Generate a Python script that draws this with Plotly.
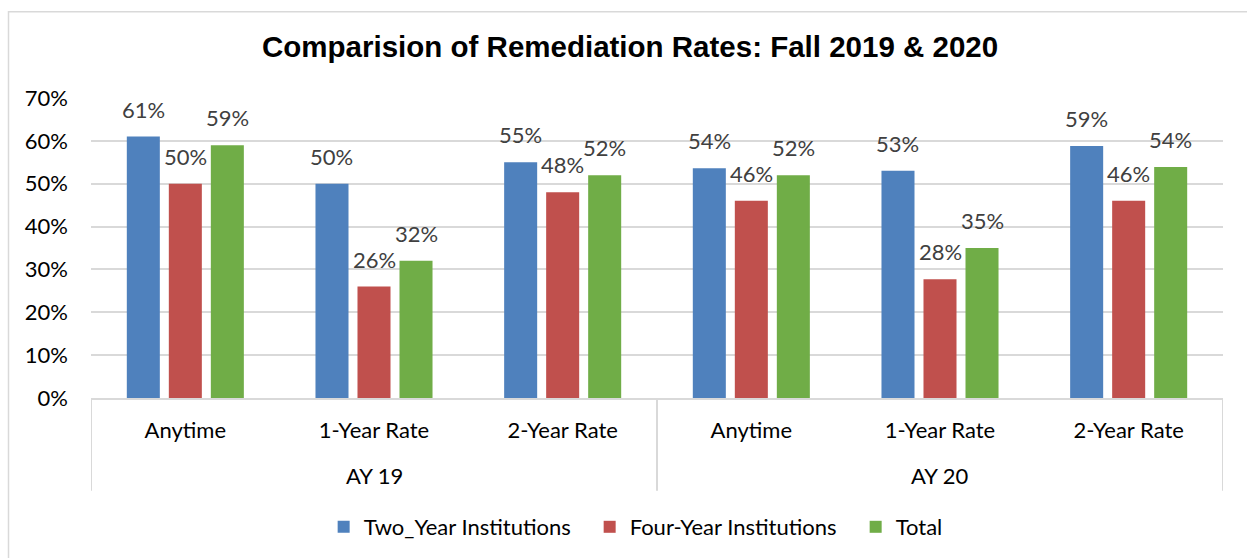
import plotly.graph_objects as go

groups = ["AY 19", "AY 20"]
years = ["AY 19"] * 3 + ["AY 20"] * 3
measures = ["Anytime", "1-Year Rate", "2-Year Rate"] * 2
two_year = [0.61, 0.50, 0.55, 0.536, 0.53, 0.588]
four_year = [0.50, 0.26, 0.48, 0.46, 0.277, 0.46]
total = [0.59, 0.32, 0.52, 0.52, 0.35, 0.539]
series_names = ["Two_Year Institutions", "Four-Year Institutions", "Total"]
colors = ["#4F81BD", "#C0504D", "#70AD47"]
title = "Comparision of Remediation Rates: Fall 2019 & 2020"
ytickvals = [0, 0.1, 0.2, 0.3, 0.4, 0.5, 0.6, 0.7]

W, H = 1247, 558
ML, MR, MT, MB = 91, 24, 98, 159
FONT = "Lato"
FS = 22
BARGAP = 0.332
BARGROUPGAP = 0.214
GRID = "#D9D9D9"

pw = W - ML - MR
ph = H - MT - MB
xpos = list(range(len(measures)))
all_series = [two_year, four_year, total]

fig = go.Figure()
for name, vals, col in zip(series_names, all_series, colors):
    fig.add_trace(go.Bar(name=name, x=xpos, y=vals, marker_color=col, marker_line_width=0))

# data labels above bars (positioned from the bar group geometry)
slot = (1 - BARGAP) / len(all_series)
for k, vals in enumerate(all_series):
    off = (k - (len(all_series) - 1) / 2) * slot
    for i, v in zip(xpos, vals):
        fig.add_annotation(x=i + off, y=v, xref="x", yref="y", text=f"{round(v * 100)}%",
                           showarrow=False, yanchor="bottom", xanchor="center", yshift=12,
                           font=dict(family=FONT, size=FS, color="#404040"))

# group labels and dividers of the two-level category axis
n_per = len(measures) // len(groups)
for g, name in enumerate(groups):
    center = g * n_per + (n_per - 1) / 2
    fig.add_annotation(x=center, y=-78 / ph, xref="x", yref="paper", text=name, showarrow=False,
                       yanchor="middle", xanchor="center", font=dict(family=FONT, size=FS, color="black"))
for b in range(len(groups) + 1):
    xd = b * n_per - 0.5
    fig.add_shape(type="line", xref="x", yref="paper", x0=xd, x1=xd, y0=0, y1=-93 / ph,
                  line=dict(color=GRID, width=2))

# chart-area border
fig.add_shape(type="rect", xref="paper", yref="paper",
              x0=-(ML - 8.5) / pw, x1=1 + (MR + 20) / pw,
              y0=-(MB + 20) / ph, y1=1 + (MT - 11.5) / ph,
              line=dict(color=GRID, width=1.5), fillcolor="rgba(0,0,0,0)")

fig.update_layout(
    width=W, height=H,
    margin=dict(l=ML, r=MR, t=MT, b=MB),
    paper_bgcolor="white", plot_bgcolor="white",
    title=dict(text="<b>" + title + "</b>", x=0.5053, xanchor="center", y=1 - 47 / H, yanchor="middle",
               font=dict(family="Liberation Sans, Arial", size=29.5, color="black")),
    barmode="group", bargap=BARGAP, bargroupgap=BARGROUPGAP,
    font=dict(family=FONT, size=FS, color="black"),
    legend=dict(orientation="h", x=0.558, xanchor="center", y=-(527 - (H - MB)) / ph, yanchor="middle",
                font=dict(family=FONT, size=FS, color="black"), traceorder="normal",
                entrywidth=221, entrywidthmode="pixels"),
    showlegend=True,
)
fig.update_yaxes(range=[0, 0.7], tickvals=ytickvals, tickformat=".0%",
                 showgrid=True, gridcolor=GRID, gridwidth=2,
                 zeroline=False, showline=False, ticks="", ticklabelstandoff=22,
                 tickfont=dict(family=FONT, size=FS, color="black"))
fig.update_xaxes(range=[-0.5, len(measures) - 0.5], tickvals=xpos, ticktext=measures,
                 showgrid=False, zeroline=False,
                 showline=True, linecolor=GRID, linewidth=2,
                 ticks="", ticklabelstandoff=12, tickfont=dict(family=FONT, size=FS, color="black"))

fig.write_html("out.html", config={"displayModeBar": False},
               post_script="document.body.style.margin='0';")
